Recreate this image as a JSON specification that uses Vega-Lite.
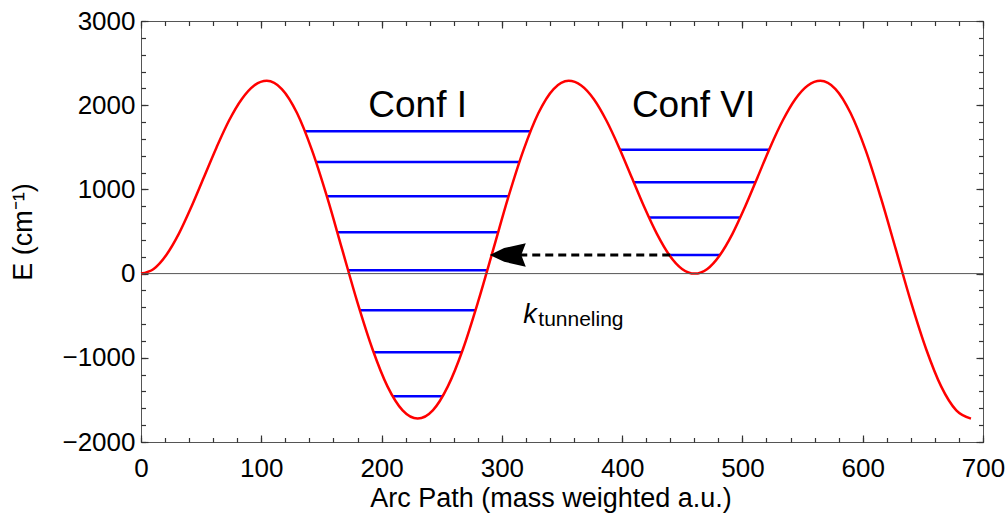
{
  "$schema": "https://vega.github.io/schema/vega-lite/v6.json",
  "width": 842,
  "height": 421,
  "autosize": {"type": "none"},
  "padding": {"left": 141, "top": 21, "right": 25, "bottom": 83},
  "background": "white",
  "view": {"stroke": "#555555", "strokeWidth": 1},
  "config": {
    "font": "Liberation Sans",
    "axis": {"grid": false, "domain": false, "labelFont": "Liberation Sans", "titleFont": "Liberation Sans", "labelColor": "black", "titleColor": "black", "titleFontWeight": "normal", "tickColor": "#333333", "tickWidth": 1.2}
  },
  "resolve": {"axis": {"x": "independent", "y": "independent"}},
  "layer": [
    {
      "data": {"values": [
        {"x1": 136.3, "x2": 323.8, "E": 1692},
        {"x1": 145.5, "x2": 314.5, "E": 1324},
        {"x1": 154.4, "x2": 305.6, "E": 920},
        {"x1": 163.2, "x2": 296.9, "E": 492},
        {"x1": 172.2, "x2": 287.9, "E": 40},
        {"x1": 181.9, "x2": 278.1, "E": -435},
        {"x1": 193.3, "x2": 266.7, "E": -934},
        {"x1": 209.2, "x2": 250.8, "E": -1457},
        {"x1": 398.3, "x2": 522.1, "E": 1470},
        {"x1": 409.6, "x2": 510.8, "E": 1086},
        {"x1": 422.3, "x2": 498.2, "E": 667},
        {"x1": 439.2, "x2": 481.4, "E": 222}
      ]},
      "mark": {"type": "rule", "color": "#0000ff", "strokeWidth": 2.5},
      "encoding": {
        "x": {"field": "x1", "type": "quantitative", "scale": {"domain": [0, 700], "nice": false, "zero": false},
              "axis": {"orient": "bottom", "values": [0,100,200,300,400,500,600,700], "labels": false, "ticks": true, "tickSize": -7, "title": null}},
        "x2": {"field": "x2"},
        "y": {"field": "E", "type": "quantitative", "scale": {"domain": [-2000, 3000], "nice": false, "zero": false},
              "axis": {"orient": "left", "values": [-2000,-1000,0,1000,2000,3000], "labels": false, "ticks": true, "tickSize": -7, "title": null}}
      }
    },
    {
      "data": {"values": [
        {"s": 0, "E": 0}, {"s": 10.5, "E": 56}, {"s": 20.9, "E": 219}, {"s": 31.4, "E": 472}, {"s": 41.8, "E": 791},
        {"s": 52.3, "E": 1145}, {"s": 62.8, "E": 1499}, {"s": 73.2, "E": 1818}, {"s": 83.7, "E": 2071}, {"s": 94.1, "E": 2234},
        {"s": 104.6, "E": 2290}, {"s": 117.1, "E": 2192}, {"s": 129.7, "E": 1907}, {"s": 142.2, "E": 1463}, {"s": 154.8, "E": 904},
        {"s": 167.3, "E": 284}, {"s": 179.8, "E": -336}, {"s": 192.4, "E": -895}, {"s": 204.9, "E": -1339}, {"s": 217.5, "E": -1624},
        {"s": 230, "E": -1722}, {"s": 242.6, "E": -1624}, {"s": 255.1, "E": -1339}, {"s": 267.7, "E": -895}, {"s": 280.2, "E": -336},
        {"s": 292.8, "E": 284}, {"s": 305.3, "E": 904}, {"s": 317.9, "E": 1463}, {"s": 330.4, "E": 1907}, {"s": 343.0, "E": 2192},
        {"s": 355.5, "E": 2290}, {"s": 366.0, "E": 2234}, {"s": 376.5, "E": 2071}, {"s": 386.9, "E": 1818}, {"s": 397.4, "E": 1499},
        {"s": 407.9, "E": 1145}, {"s": 418.4, "E": 791}, {"s": 428.9, "E": 472}, {"s": 439.3, "E": 219}, {"s": 449.8, "E": 56},
        {"s": 460.3, "E": 0}, {"s": 470.8, "E": 56}, {"s": 481.2, "E": 219}, {"s": 491.7, "E": 472}, {"s": 502.1, "E": 791},
        {"s": 512.6, "E": 1145}, {"s": 523.0, "E": 1499}, {"s": 533.5, "E": 1818}, {"s": 543.9, "E": 2071}, {"s": 554.4, "E": 2234},
        {"s": 564.8, "E": 2290}, {"s": 577.4, "E": 2192}, {"s": 589.9, "E": 1907}, {"s": 602.5, "E": 1463}, {"s": 615.0, "E": 904},
        {"s": 627.6, "E": 284}, {"s": 640.1, "E": -336}, {"s": 652.7, "E": -895}, {"s": 665.2, "E": -1339}, {"s": 677.8, "E": -1624},
        {"s": 690, "E": -1722}
      ]},
      "mark": {"type": "line", "color": "#ff0000", "strokeWidth": 2.5, "interpolate": "monotone"},
      "encoding": {
        "x": {"field": "s", "type": "quantitative", "scale": {"domain": [0, 700], "nice": false, "zero": false},
              "axis": {"orient": "bottom", "values": [0,100,200,300,400,500,600,700], "ticks": false, "labelFontSize": 26, "labelPadding": 13, "format": "d", "labelFlush": false, "labelOverlap": false,
                       "title": "Arc Path (mass weighted a.u.)", "titleFontSize": 27, "titleX": 409.5, "titleY": 64.5, "titleBaseline": "alphabetic", "titleAlign": "center"}},
        "y": {"field": "E", "type": "quantitative", "scale": {"domain": [-2000, 3000], "nice": false, "zero": false},
              "axis": {"orient": "left", "values": [-2000,-1000,0,1000,2000,3000], "ticks": false, "labelFontSize": 26, "labelPadding": 6, "format": "d", "labelFlush": false, "labelOverlap": false,
                       "title": "E (cm⁻¹)", "titleFontSize": 27, "titleX": -109.3, "titleY": 210.5, "titleAngle": -90, "titleBaseline": "alphabetic", "titleAlign": "center"}}
      }
    },
    {
      "data": {"values": [{"a": 0, "b": 700, "E": 0}]},
      "mark": {"type": "rule", "color": "#555555", "strokeWidth": 1},
      "encoding": {
        "x": {"field": "a", "type": "quantitative", "scale": {"domain": [0, 700], "nice": false, "zero": false},
              "axis": {"orient": "bottom", "values": [0,20,40,60,80,100,120,140,160,180,200,220,240,260,280,300,320,340,360,380,400,420,440,460,480,500,520,540,560,580,600,620,640,660,680,700], "labels": false, "ticks": true, "tickSize": -4.5, "title": null}},
        "x2": {"field": "b"},
        "y": {"field": "E", "type": "quantitative", "scale": {"domain": [-2000, 3000], "nice": false, "zero": false},
              "axis": {"orient": "left", "values": [-2000,-1800,-1600,-1400,-1200,-1000,-800,-600,-400,-200,0,200,400,600,800,1000,1200,1400,1600,1800,2000,2200,2400,2600,2800,3000], "labels": false, "ticks": true, "tickSize": -4.5, "title": null}}
      }
    },
    {
      "data": {"values": [{"a": 440, "b": 305, "E": 222}]},
      "mark": {"type": "rule", "color": "black", "strokeWidth": 3, "strokeDash": [8, 5]},
      "encoding": {
        "x": {"field": "a", "type": "quantitative", "scale": {"domain": [0, 700], "nice": false, "zero": false},
              "axis": {"orient": "top", "values": [0,100,200,300,400,500,600,700], "labels": false, "ticks": true, "tickSize": -7, "title": null}},
        "x2": {"field": "b"},
        "y": {"field": "E", "type": "quantitative", "scale": {"domain": [-2000, 3000], "nice": false, "zero": false},
              "axis": {"orient": "right", "values": [-2000,-1000,0,1000,2000,3000], "labels": false, "ticks": true, "tickSize": -7, "title": null}}
      }
    },
    {
      "data": {"values": [{"s": 304.9, "E": 222}]},
      "mark": {"type": "point", "shape": "M-1,0L-0.2,-0.38L1,-0.65L0.75,0L1,0.65L-0.2,0.38Z", "size": 1300, "filled": true, "color": "black", "opacity": 1, "strokeWidth": 0},
      "encoding": {
        "x": {"field": "s", "type": "quantitative", "scale": {"domain": [0, 700], "nice": false, "zero": false},
              "axis": {"orient": "top", "values": [0,20,40,60,80,100,120,140,160,180,200,220,240,260,280,300,320,340,360,380,400,420,440,460,480,500,520,540,560,580,600,620,640,660,680,700], "labels": false, "ticks": true, "tickSize": -4.5, "title": null}},
        "y": {"field": "E", "type": "quantitative", "scale": {"domain": [-2000, 3000], "nice": false, "zero": false},
              "axis": {"orient": "right", "values": [-2000,-1800,-1600,-1400,-1200,-1000,-800,-600,-400,-200,0,200,400,600,800,1000,1200,1400,1600,1800,2000,2200,2400,2600,2800,3000], "labels": false, "ticks": true, "tickSize": -4.5, "title": null}}
      }
    },
    {
      "data": {"values": [{"s": 230, "E": 1862, "t": "Conf I"}, {"s": 459.4, "E": 1862, "t": "Conf VI"}]},
      "mark": {"type": "text", "fontSize": 37, "align": "center", "baseline": "alphabetic", "color": "black", "font": "Liberation Sans"},
      "encoding": {
        "x": {"field": "s", "type": "quantitative", "scale": {"domain": [0, 700], "nice": false, "zero": false}, "axis": null},
        "y": {"field": "E", "type": "quantitative", "scale": {"domain": [-2000, 3000], "nice": false, "zero": false}, "axis": null},
        "text": {"field": "t"}
      }
    },
    {
      "data": {"values": [{"s": 317.8, "E": -586, "t": "k"}]},
      "mark": {"type": "text", "fontSize": 27, "fontStyle": "italic", "align": "left", "baseline": "alphabetic", "color": "black", "font": "Liberation Sans"},
      "encoding": {
        "x": {"field": "s", "type": "quantitative", "scale": {"domain": [0, 700], "nice": false, "zero": false}, "axis": null},
        "y": {"field": "E", "type": "quantitative", "scale": {"domain": [-2000, 3000], "nice": false, "zero": false}, "axis": null},
        "text": {"field": "t"}
      }
    },
    {
      "data": {"values": [{"s": 330.3, "E": -625, "t": "tunneling"}]},
      "mark": {"type": "text", "fontSize": 21, "align": "left", "baseline": "alphabetic", "color": "black", "font": "Liberation Sans"},
      "encoding": {
        "x": {"field": "s", "type": "quantitative", "scale": {"domain": [0, 700], "nice": false, "zero": false}, "axis": null},
        "y": {"field": "E", "type": "quantitative", "scale": {"domain": [-2000, 3000], "nice": false, "zero": false}, "axis": null},
        "text": {"field": "t"}
      }
    }
  ]
}
